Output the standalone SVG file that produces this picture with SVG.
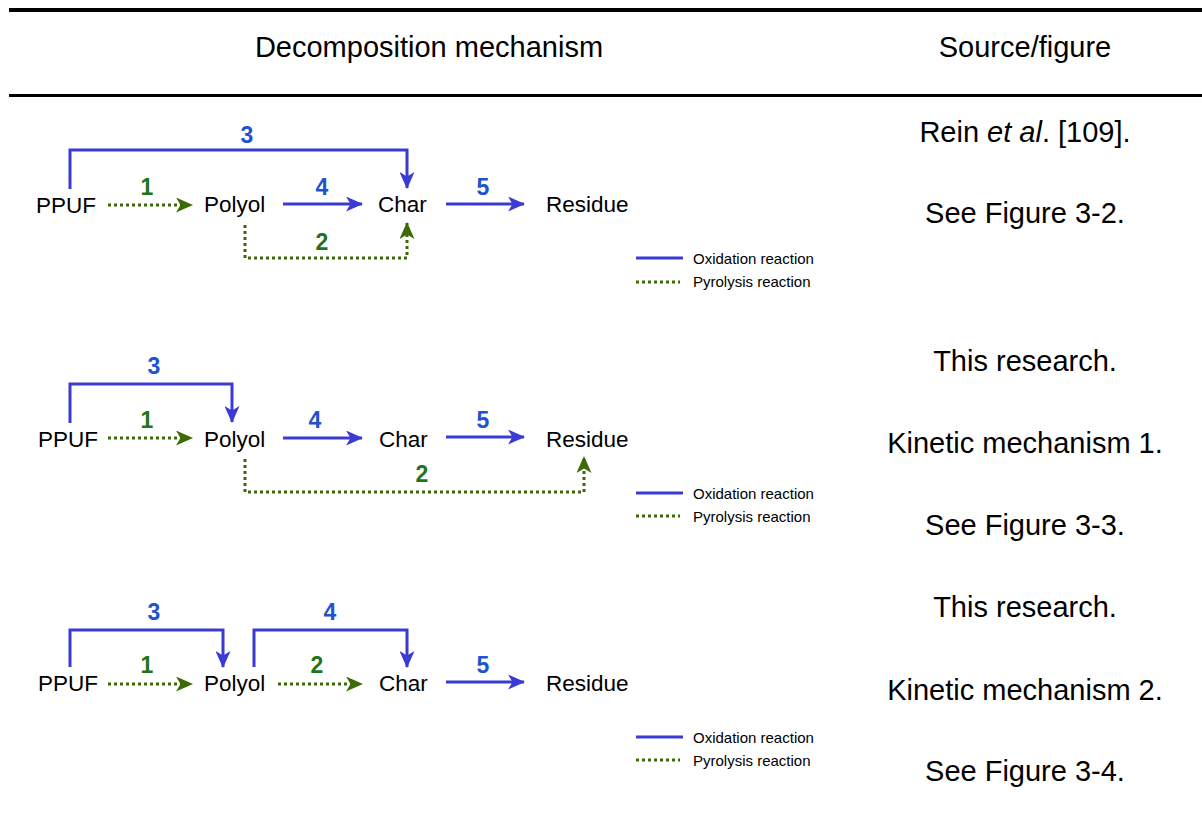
<svg xmlns="http://www.w3.org/2000/svg" width="1202" height="816" viewBox="0 0 1202 816">
<style>
.hd{font-family:"Liberation Sans",Arial,sans-serif;font-size:29px;fill:#000;text-anchor:middle}
.nd{font-family:"Liberation Sans",Arial,sans-serif;font-size:22.5px;fill:#000}
.lb{font-family:"Liberation Sans",Arial,sans-serif;font-size:23px;font-weight:bold;text-anchor:middle}
.lb.b{fill:#2152cf}
.lb.g{fill:#1f7518}
.lg{font-family:"Liberation Sans",Arial,sans-serif;font-size:15px;fill:#000}
.ox{fill:none;stroke:#3b3bd4;stroke-width:3}
.py{fill:none;stroke:#3c6a05;stroke-width:3;stroke-dasharray:3 3}
.oxa{marker-end:url(#ab)}
.pya{marker-end:url(#ag)}
</style>
<defs>
<marker id="ab" markerUnits="userSpaceOnUse" viewBox="0 0 17 15" markerWidth="17" markerHeight="15" refX="16" refY="7.5" orient="auto">
<path d="M0,0 L17,7.5 L0,15 L4.5,7.5 Z" fill="#3b3bd4"/>
</marker>
<marker id="ag" markerUnits="userSpaceOnUse" viewBox="0 0 17 15" markerWidth="17" markerHeight="15" refX="16" refY="7.5" orient="auto">
<path d="M0,0 L17,7.5 L0,15 L4.5,7.5 Z" fill="#3c6a05"/>
</marker>
</defs>
<rect width="1202" height="816" fill="#fff"/>

<g id="table">
<rect x="9" y="8" width="1193" height="4" fill="#000"/>
<rect x="9" y="94" width="1193" height="3" fill="#000"/>
<text class="hd" x="429" y="57">Decomposition mechanism</text>
<text class="hd" x="1025" y="57">Source/figure</text>
</g>

<g id="sources">
<text class="hd" x="1025" y="142">Rein <tspan font-style="italic">et al</tspan>. [109].</text>
<text class="hd" x="1025" y="223">See Figure 3-2.</text>
<text class="hd" x="1025" y="371">This research.</text>
<text class="hd" x="1025" y="453">Kinetic mechanism 1.</text>
<text class="hd" x="1025" y="535">See Figure 3-3.</text>
<text class="hd" x="1025" y="617">This research.</text>
<text class="hd" x="1025" y="700">Kinetic mechanism 2.</text>
<text class="hd" x="1025" y="781">See Figure 3-4.</text>
</g>

<!-- Mechanism 1 -->
<g id="m1-ppuf"><text class="nd" x="36" y="213">PPUF</text></g>
<g id="m1-polyol"><text class="nd" x="204" y="212">Polyol</text></g>
<g id="m1-char"><text class="nd" x="378" y="212">Char</text></g>
<g id="m1-residue"><text class="nd" x="546" y="212">Residue</text></g>
<g id="m1-connectors">
<path class="ox oxa" d="M70,189 V150 H407 V188"/>
<path class="py pya" d="M108,205 H192"/>
<path class="ox oxa" d="M283,204 H362"/>
<path class="ox oxa" d="M446,204 H524"/>
<path class="py pya" d="M245,225 V258 H407 V223"/>
<text class="lb b" x="247" y="143">3</text>
<text class="lb g" x="147" y="195">1</text>
<text class="lb b" x="322" y="195">4</text>
<text class="lb b" x="483" y="195">5</text>
<text class="lb g" x="322" y="250">2</text>
</g>
<g id="m1-legend">
<line class="ox" x1="636" y1="258" x2="683" y2="258"/>
<line class="py" x1="636" y1="282" x2="680" y2="282"/>
<text class="lg" x="693" y="264">Oxidation reaction</text>
<text class="lg" x="693" y="287">Pyrolysis reaction</text>
</g>

<!-- Mechanism 2 -->
<g id="m2-ppuf"><text class="nd" x="38" y="447">PPUF</text></g>
<g id="m2-polyol"><text class="nd" x="204" y="447">Polyol</text></g>
<g id="m2-char"><text class="nd" x="379" y="447">Char</text></g>
<g id="m2-residue"><text class="nd" x="546" y="447">Residue</text></g>
<g id="m2-connectors">
<path class="ox oxa" d="M70,423 V384 H232 V422"/>
<path class="py pya" d="M108,438 H192"/>
<path class="ox oxa" d="M283,438 H362"/>
<path class="ox oxa" d="M446,437 H524"/>
<path class="py pya" d="M245,459 V492 H584 V457"/>
<text class="lb b" x="154" y="374">3</text>
<text class="lb g" x="147" y="428">1</text>
<text class="lb b" x="315" y="428">4</text>
<text class="lb b" x="483" y="428">5</text>
<text class="lb g" x="422" y="482">2</text>
</g>
<g id="m2-legend">
<line class="ox" x1="636" y1="493" x2="683" y2="493"/>
<line class="py" x1="636" y1="516" x2="680" y2="516"/>
<text class="lg" x="693" y="499">Oxidation reaction</text>
<text class="lg" x="693" y="522">Pyrolysis reaction</text>
</g>

<!-- Mechanism 3 -->
<g id="m3-ppuf"><text class="nd" x="38" y="691">PPUF</text></g>
<g id="m3-polyol"><text class="nd" x="204" y="691">Polyol</text></g>
<g id="m3-char"><text class="nd" x="379" y="691">Char</text></g>
<g id="m3-residue"><text class="nd" x="546" y="691">Residue</text></g>
<g id="m3-connectors">
<path class="ox oxa" d="M70,667 V630 H223 V667"/>
<path class="ox oxa" d="M254,667 V630 H407 V667"/>
<path class="py pya" d="M108,684 H192"/>
<path class="py pya" d="M278,684 H362"/>
<path class="ox oxa" d="M446,682 H524"/>
<text class="lb b" x="154" y="620">3</text>
<text class="lb b" x="330" y="620">4</text>
<text class="lb g" x="147" y="673">1</text>
<text class="lb g" x="317" y="673">2</text>
<text class="lb b" x="483" y="673">5</text>
</g>
<g id="m3-legend">
<line class="ox" x1="636" y1="737" x2="683" y2="737"/>
<line class="py" x1="636" y1="760" x2="680" y2="760"/>
<text class="lg" x="693" y="743">Oxidation reaction</text>
<text class="lg" x="693" y="766">Pyrolysis reaction</text>
</g>
</svg>
